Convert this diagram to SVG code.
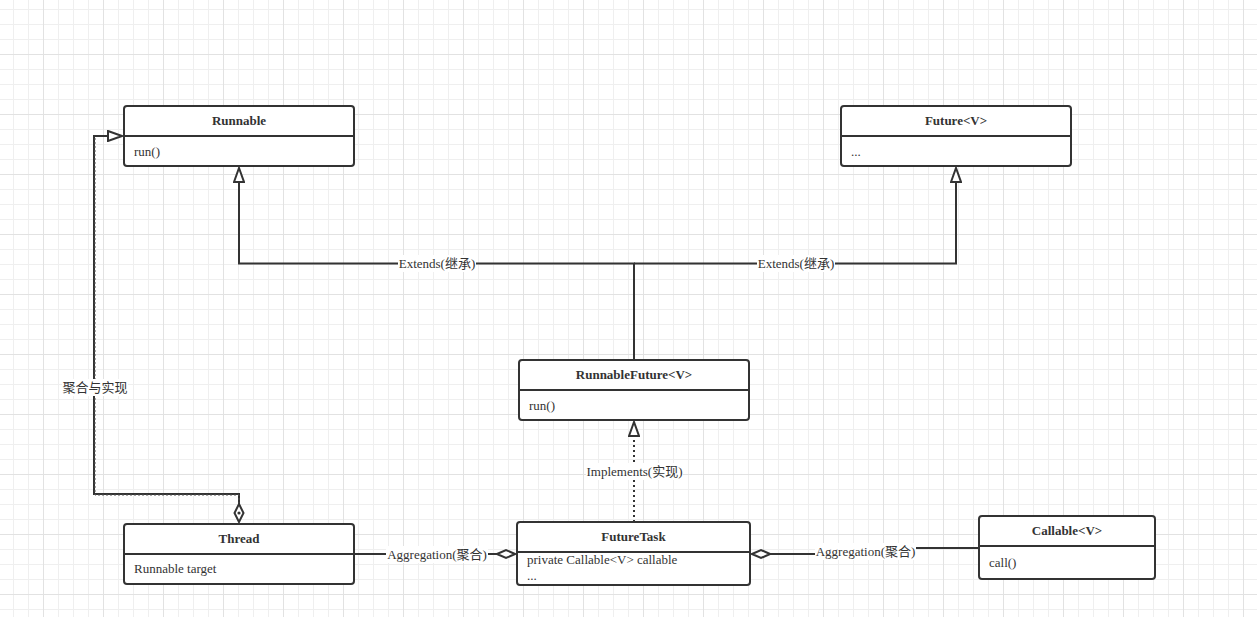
<svg xmlns="http://www.w3.org/2000/svg" width="1257" height="617" viewBox="0 0 1257 617">
<defs>
<pattern id="minor" x="13" y="9" width="15" height="15" patternUnits="userSpaceOnUse">
<path d="M0.5 0V15M0 0.5H15" fill="none" stroke="#efefef" stroke-width="1"/>
</pattern>
<pattern id="major" x="43" y="54" width="60" height="60" patternUnits="userSpaceOnUse">
<path d="M0.5 0V60M0 0.5H60" fill="none" stroke="#e2e2e2" stroke-width="1"/>
</pattern>
<marker id="tri" viewBox="0 0 16 12" refX="15" refY="6" markerWidth="16" markerHeight="12" markerUnits="userSpaceOnUse" orient="auto">
<path d="M1 1L15 6L1 11Z" fill="#fff" stroke="#333" stroke-width="2"/>
</marker>
<marker id="dia" viewBox="0 0 20 12" refX="19" refY="6" markerWidth="20" markerHeight="12" markerUnits="userSpaceOnUse" orient="auto">
<path d="M1 6L10 2L19 6L10 10Z" fill="#fff" stroke="#333" stroke-width="2"/>
</marker>
</defs>
<style>
.box{fill:#fff;stroke:#333;stroke-width:2}
.div{stroke:#333;stroke-width:2}
.title{font-family:"Liberation Serif",serif;font-size:13px;font-weight:bold;fill:#333;text-anchor:middle}
.body{font-family:"Liberation Serif",serif;font-size:13px;fill:#333}
.edge{fill:none;stroke:#333;stroke-width:2}
.dot{fill:none;stroke:#333;stroke-width:2;stroke-dasharray:2 3}
.lbl{font-family:"Liberation Serif","Noto Sans CJK SC",serif;font-size:13px;fill:#333;text-anchor:middle}
.lblbg{fill:#fff}
</style>
<rect width="1257" height="617" fill="#fff"/>
<rect width="1257" height="617" fill="url(#minor)"/>
<rect width="1257" height="617" fill="url(#major)"/>

<g id="connectors">
<path class="edge" d="M634 360V263.5H239V168" marker-end="url(#tri)"/>
<path class="edge" d="M634 263.5H956V168" marker-end="url(#tri)"/>
<path class="dot" d="M634 522V422" marker-end="url(#tri)"/>
<path class="edge" d="M354 554H515" marker-end="url(#dia)"/>
<path class="edge" d="M979 548L916 548L815 554H752" marker-end="url(#dia)"/>
<path class="edge" d="M239 504V494H94V136H122" marker-end="url(#tri)"/>
<path d="M239 504V495H95V137" fill="none" stroke="#555" stroke-width="1" stroke-dasharray="2 2"/>
<path d="M239 504L243.5 513L239 522L234.5 513Z" fill="#fff" stroke="#333" stroke-width="2"/>
<circle cx="239" cy="513" r="1.6" fill="#333"/>
<rect class="lblbg" x="398" y="255" width="78" height="17"/>
<text class="lbl" x="437" y="268">Extends(继承)</text>
<rect class="lblbg" x="757" y="255" width="78" height="17"/>
<text class="lbl" x="796" y="268">Extends(继承)</text>
<rect class="lblbg" x="586" y="463" width="97" height="17"/>
<text class="lbl" x="634.5" y="476">Implements(实现)</text>
<rect class="lblbg" x="386" y="546" width="102" height="17"/>
<text class="lbl" x="437" y="559">Aggregation(聚合)</text>
<rect class="lblbg" x="815" y="543" width="101" height="17"/>
<text class="lbl" x="865.5" y="556">Aggregation(聚合)</text>
<rect class="lblbg" x="62" y="379" width="66" height="17"/>
<text class="lbl" x="95" y="392">聚合与实现</text>
</g>

<g id="runnable">
<rect class="box" x="124" y="106" width="230" height="60" rx="3"/>
<line class="div" x1="124" y1="136" x2="354" y2="136"/>
<text class="title" x="239" y="125">Runnable</text>
<text class="body" x="134" y="156">run()</text>
</g>

<g id="future">
<rect class="box" x="841" y="106" width="230" height="60" rx="3"/>
<line class="div" x1="841" y1="136" x2="1071" y2="136"/>
<text class="title" x="956" y="125">Future&lt;V&gt;</text>
<text class="body" x="851" y="156">...</text>
</g>

<g id="runnablefuture">
<rect class="box" x="519" y="360" width="230" height="60" rx="3"/>
<line class="div" x1="519" y1="390" x2="749" y2="390"/>
<text class="title" x="634" y="379">RunnableFuture&lt;V&gt;</text>
<text class="body" x="529" y="410">run()</text>
</g>

<g id="thread">
<rect class="box" x="124" y="524" width="230" height="60" rx="3"/>
<line class="div" x1="124" y1="554" x2="354" y2="554"/>
<text class="title" x="239" y="543">Thread</text>
<text class="body" x="134" y="573">Runnable target</text>
</g>

<g id="futuretask">
<rect class="box" x="517" y="522" width="233" height="63" rx="3"/>
<line class="div" x1="517" y1="552" x2="750" y2="552"/>
<text class="title" x="633.5" y="541">FutureTask</text>
<text class="body" x="527" y="564">private Callable&lt;V&gt; callable</text>
<text class="body" x="527" y="580">...</text>
</g>

<g id="callable">
<rect class="box" x="979" y="516" width="176" height="63" rx="3"/>
<line class="div" x1="979" y1="546" x2="1155" y2="546"/>
<text class="title" x="1067" y="535">Callable&lt;V&gt;</text>
<text class="body" x="989" y="567">call()</text>
</g>
</svg>
